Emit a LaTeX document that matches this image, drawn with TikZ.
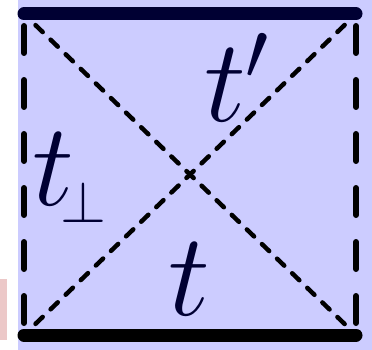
\RequirePackage{fix-cm}
\documentclass[tikz,border=0pt]{standalone}
\usetikzlibrary{positioning}
\definecolor{fillblue}{HTML}{CCCCFF}
\definecolor{navy}{HTML}{000033}
\definecolor{pinkbar}{HTML}{ECC8C8}

\begin{document}
\begin{tikzpicture}[
  x=1pt, y=-1pt,
  edge/.style={line width=13pt, line cap=round},
  side/.style={line width=6pt, line cap=round,
               dash pattern=on 27pt off 27pt, dash phase=42pt},
  diag/.style={line width=4.5pt, line cap=round,
               dash pattern=on 10pt off 11pt, dash phase=5pt},
  lbl/.style={inner sep=0pt, text=navy,
              font=\fontsize{118}{118}\selectfont},
]
\useasboundingbox (0,0) rectangle (372,350);
\fill[fillblue] (18,0) rectangle (372,350);
\fill[pinkbar] (0,279) rectangle (7,340);
% corners of the square
\coordinate (tl) at (24,14);
\coordinate (tr) at (356,14);
\coordinate (bl) at (24,335);
\coordinate (br) at (356,335);
\draw[diag] (tl) -- (br);
\draw[diag] (bl) -- (tr);
\draw[side] (tl) -- (bl);
\draw[side] (tr) -- (br);
\draw[edge, navy] (tl) -- (tr);
\draw[edge, black] (bl) -- (br);
% labels
\node[lbl, anchor=base west] (tp) at (204,122) {$t'$};
\node[lbl, anchor=base west] (tperp) at (32,205)
  {$t_{\scriptscriptstyle\mkern-4mu\perp}$};
\node[lbl, anchor=base] (tt) at (189,315) {$t$};
\end{tikzpicture}
\end{document}
